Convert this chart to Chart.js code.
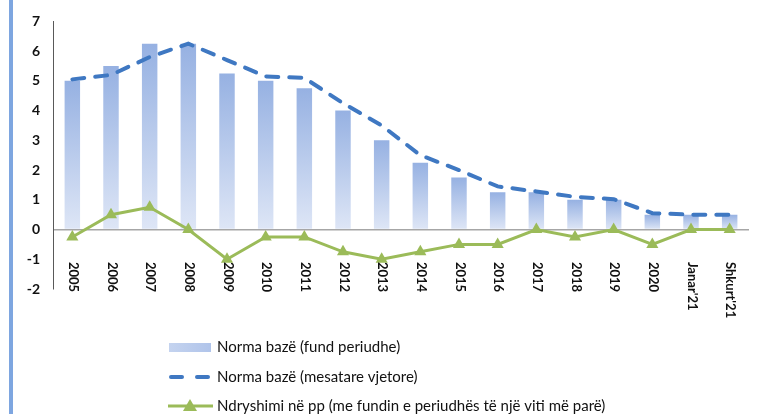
<!DOCTYPE html>
<html><head><meta charset="utf-8">
<script src="https://cdn.jsdelivr.net/npm/chart.js@4"></script>
<style>
html,body{margin:0;padding:0;background:#fff;}
#wrap{position:relative;width:757px;height:414px;}
#bar{position:absolute;left:9px;top:0;width:4px;height:414px;background:#7ea6e0;}
</style></head>
<body>
<div id="wrap"><div id="bar"></div><canvas id="c" width="757" height="414"></canvas></div>
<script>
const categories = ['2005','2006','2007','2008','2009','2010','2011','2012','2013','2014','2015','2016','2017','2018','2019','2020',"Janar'21","Shkurt'21"];
const normaFund = [5.0,5.5,6.25,6.25,5.25,5.0,4.75,4.0,3.0,2.25,1.75,1.25,1.25,1.0,1.0,0.5,0.5,0.5];
const normaMesatare = [5.05,5.2,5.8,6.25,5.7,5.15,5.1,4.25,3.5,2.5,2.0,1.45,1.28,1.1,1.02,0.55,0.5,0.5];
const ndryshimi = [-0.25,0.5,0.75,0,-1,-0.25,-0.25,-0.75,-1,-0.75,-0.5,-0.5,0,-0.25,0,-0.5,0,0];
const seriesNames = ['Norma bazë (fund periudhe)','Norma bazë (mesatare vjetore)','Ndryshimi në pp (me fundin e periudhës të një viti më parë)'];
const yTicks = [-2,-1,0,1,2,3,4,5,6,7];

const FONT = 'Lato, "Open Sans", sans-serif';
const TEXT = '#111111';

function barGradient(ctx){
  const chart = ctx.chart;
  const y = chart.scales.y;
  if (!y || !chart.chartArea) return '#a9c0e8';
  const v = ctx.raw;
  const top = y.getPixelForValue(v), bot = y.getPixelForValue(0);
  if (!isFinite(top) || !isFinite(bot) || top === bot) return '#a9c0e8';
  const g = chart.ctx.createLinearGradient(0, top, 0, bot);
  g.addColorStop(0, 'rgb(150,177,226)');
  g.addColorStop(1, 'rgb(222,230,246)');
  return g;
}

const customDraw = {
  id: 'customDraw',
  afterDraw(chart){
    const ctx = chart.ctx;
    const x = chart.scales.x;
    ctx.save();
    ctx.fillStyle = TEXT;
    ctx.font = 'bold 13px ' + FONT;
    ctx.textBaseline = 'middle';
    ctx.textAlign = 'left';
    categories.forEach((c,i)=>{
      const px = x.getPixelForValue(i);
      ctx.save();
      ctx.translate(px+1, 262);
      ctx.rotate(Math.PI/2);
      ctx.fillText(c, 0, 0);
      ctx.restore();
    });
    const lx = 170, tx = 217;
    const rows = [347, 377, 406];
    const g = ctx.createLinearGradient(lx, 0, lx+41, 0);
    g.addColorStop(0,'rgb(196,211,239)'); g.addColorStop(1,'rgb(176,196,234)');
    ctx.fillStyle = g;
    ctx.fillRect(lx-1, rows[0]-4, 42, 9);
    ctx.strokeStyle = '#3f78c2'; ctx.lineWidth = 4; ctx.lineCap='round';
    ctx.beginPath(); ctx.moveTo(lx+1, rows[1]); ctx.lineTo(lx+12, rows[1]);
    ctx.moveTo(lx+27, rows[1]); ctx.lineTo(lx+38, rows[1]); ctx.stroke();
    ctx.strokeStyle = '#9bbb59'; ctx.lineWidth = 3; ctx.lineCap='butt';
    ctx.beginPath(); ctx.moveTo(lx-2, rows[2]); ctx.lineTo(lx+43, rows[2]); ctx.stroke();
    ctx.fillStyle = '#9bbb59';
    ctx.beginPath(); ctx.moveTo(lx+20, rows[2]-7); ctx.lineTo(lx+27, rows[2]+5); ctx.lineTo(lx+13, rows[2]+5); ctx.closePath(); ctx.fill();
    ctx.fillStyle = TEXT;
    ctx.font = '15px ' + FONT;
    ctx.textAlign='left'; ctx.textBaseline='middle';
    seriesNames.forEach((n,i)=>ctx.fillText(n, tx, rows[i]));
    ctx.restore();
  }
};

new Chart(document.getElementById('c'), {
  data: {
    labels: categories,
    datasets: [
      { type:'line', label: seriesNames[2], data: ndryshimi, borderColor:'#9bbb59', backgroundColor:'#9bbb59',
        borderWidth:3, pointStyle:'triangle', pointRadius:7, pointHoverRadius:7, pointBorderWidth:0, tension:0, order:1 },
      { type:'line', label: seriesNames[1], data: normaMesatare, borderColor:'#3f78c2', borderWidth:4,
        borderDash:[12,11], borderCapStyle:'round', pointRadius:0, tension:0, fill:false, order:2 },
      { type:'bar', label: seriesNames[0], data: normaFund, backgroundColor: barGradient,
        borderWidth:0, barPercentage:0.4, categoryPercentage:1, order:3 }
    ]
  },
  options: {
    responsive:false, animation:false,
    layout:{ padding:{ top:19, right:8, left:0, bottom:0 } },
    plugins:{ legend:{display:false}, tooltip:{enabled:false} },
    scales:{
      x:{
        offset:true,
        grid:{ display:false },
        border:{ display:false },
        ticks:{ display:false },
        afterFit(s){ s.height = 125; }
      },
      y:{
        min:-2, max:7,
        afterBuildTicks(s){ s.ticks = yTicks.map(v=>({value:v})); },
        grid:{ drawTicks:false, color:(c)=> (c.tick && c.tick.value===0) ? '#a6a6a6' : 'rgba(0,0,0,0)', lineWidth:1.5 },
        border:{ display:true, color:'#595959', width:1 },
        ticks:{ color:TEXT, font:{ family:FONT, size:14, weight:'bold' }, padding:13 },
        afterFit(s){ s.width = 53; }
      }
    }
  },
  plugins:[customDraw]
});
</script>
</body></html>
